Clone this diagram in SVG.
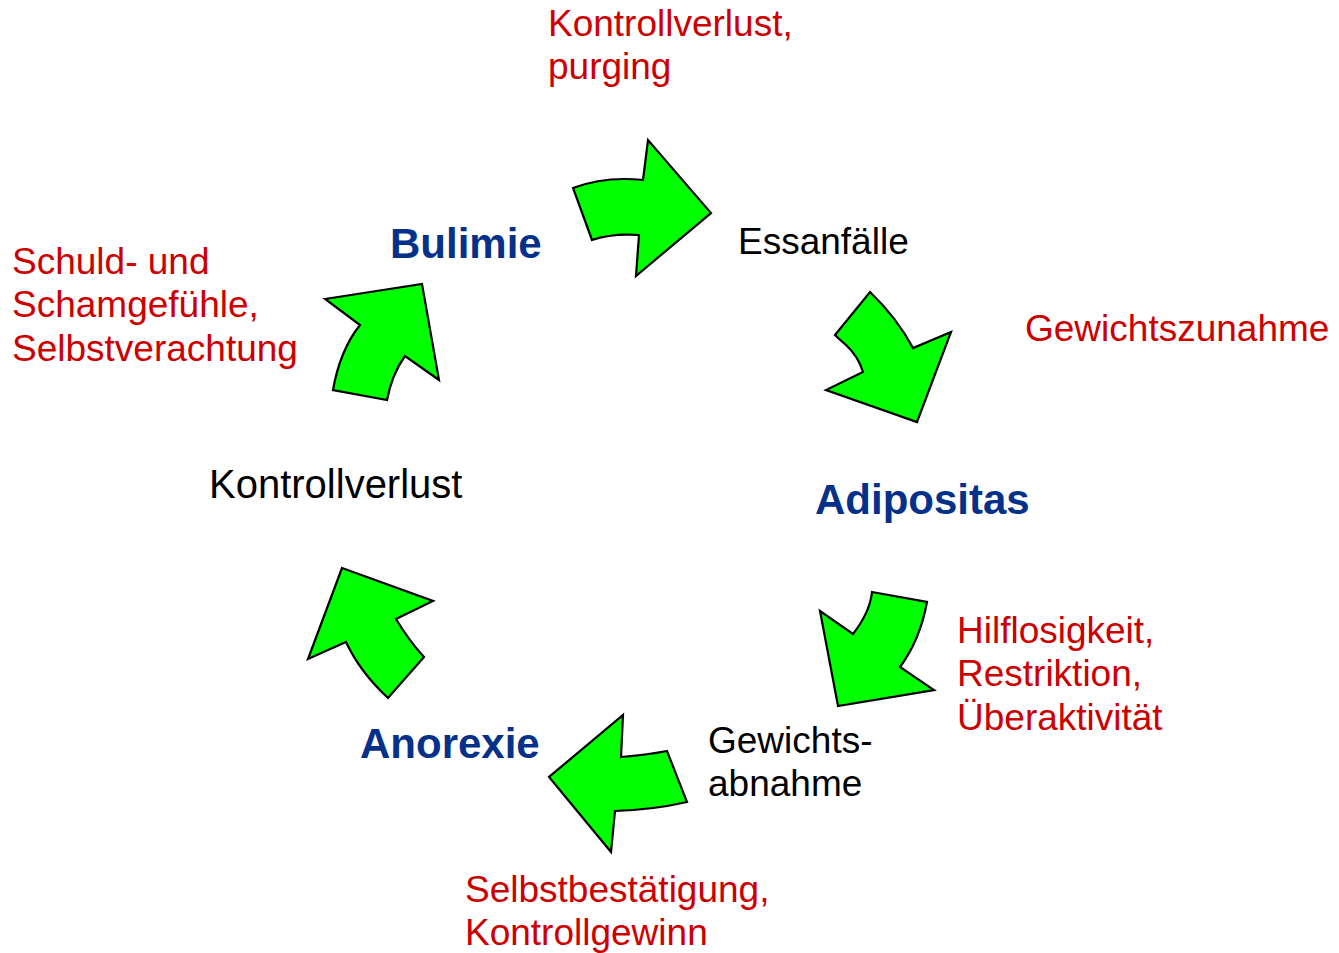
<svg xmlns="http://www.w3.org/2000/svg" width="1339" height="953" viewBox="0 0 1339 953">
<style>
.arrow{fill:#00FF00;stroke:#000;stroke-width:2.2;stroke-linejoin:miter}
.red{font-family:"Liberation Sans",Arial,sans-serif;font-size:37px;fill:#CC0000}
.blk{font-family:"Liberation Sans",Arial,sans-serif;font-size:37px;fill:#000}
.blue{font-family:"Liberation Sans",Arial,sans-serif;font-size:42px;font-weight:bold;fill:#06318A}
</style>
<rect width="1339" height="953" fill="#fff"/>
<g id="connectors">
<path id="arrow1" class="arrow" d="M573,188 Q605,176 643,180 L648,140 L711,213 L636,276 L639,235 Q612,233 592,240 Z"/>
<path id="arrow2" class="arrow" d="M870,292 Q897,318 913,348 L951,332 L917,422 L826,390 L863,372 Q858,356 846,345 Q838,338 835,335 Z"/>
<path id="arrow3" class="arrow" d="M872,592 L927,602 Q920,640 900,667 L934,690 L838,706 L820,611 L853,634 Q870,612 872,592 Z"/>
<path id="arrow4" class="arrow" d="M623,715 L621,757 Q646,755 667,751 L687,802 Q652,810 615,811 L611,852 L549,777 Z"/>
<path id="arrow5" class="arrow" d="M342,568 L433,601 L396,619 Q410,642 424,657 L388,698 Q360,672 346,642 L308,659 Z"/>
<path id="arrow6" class="arrow" d="M325,299 L422,284 L439,380 L405,356 Q392,374 387,400 L333,390 Q340,350 360,325 Z"/>
</g>
<g id="node-bulimie"><text class="blue" x="390" y="258">Bulimie</text></g>
<g id="node-essanfaelle"><text class="blk" x="738" y="254">Essanfälle</text></g>
<g id="node-adipositas"><text class="blue" x="815" y="514">Adipositas</text></g>
<g id="node-gewichtsabnahme"><text class="blk" x="708" y="753">Gewichts-</text><text class="blk" x="708" y="796">abnahme</text></g>
<g id="node-anorexie"><text class="blue" x="360" y="758">Anorexie</text></g>
<g id="node-kontrollverlust"><text class="blk" x="209" y="498" style="font-size:40px">Kontrollverlust</text></g>
<g id="label-kontrollverlust-purging"><text class="red" x="548" y="36">Kontrollverlust,</text><text class="red" x="548" y="79">purging</text></g>
<g id="label-gewichtszunahme"><text class="red" x="1025" y="341">Gewichtszunahme</text></g>
<g id="label-hilflosigkeit"><text class="red" x="957" y="643">Hilflosigkeit,</text><text class="red" x="957" y="686">Restriktion,</text><text class="red" x="957" y="730">Überaktivität</text></g>
<g id="label-selbstbestaetigung"><text class="red" x="465" y="902">Selbstbestätigung,</text><text class="red" x="465" y="945">Kontrollgewinn</text></g>
<g id="label-schuld"><text class="red" x="12" y="274">Schuld- und</text><text class="red" x="12" y="317">Schamgefühle,</text><text class="red" x="12" y="361">Selbstverachtung</text></g>
</svg>
